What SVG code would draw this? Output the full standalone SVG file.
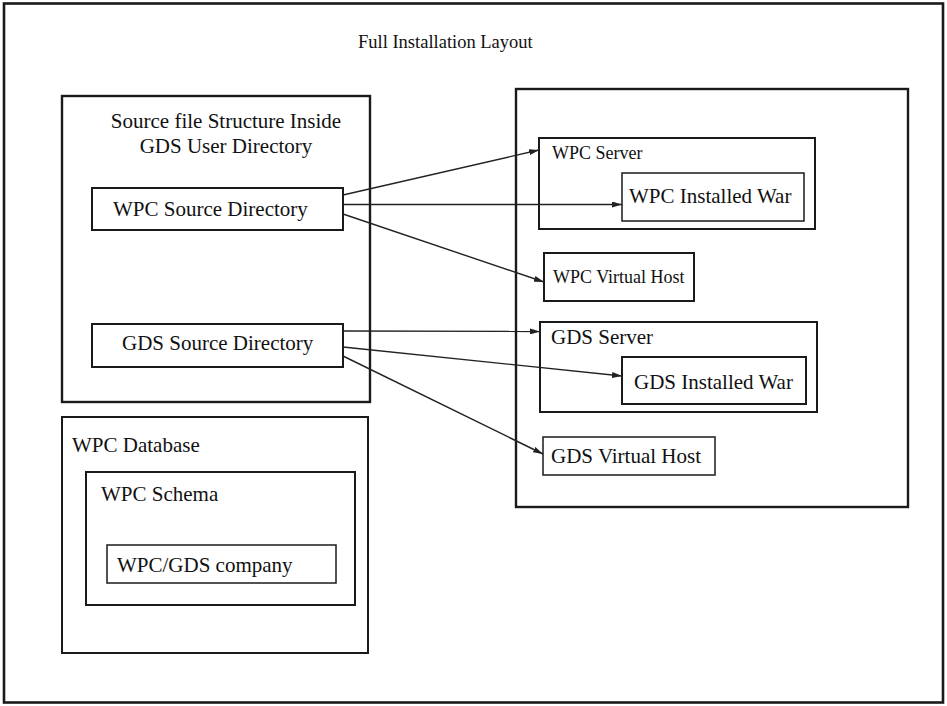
<svg xmlns="http://www.w3.org/2000/svg" width="947" height="706" viewBox="0 0 947 706">
<style>
text{font-family:"Liberation Serif","Times New Roman",serif;font-size:21px;fill:#111}
.s{font-size:18px}
.b{fill:#fff;stroke:#1a1a1a;stroke-width:2}
.t{fill:#fff;stroke:#1a1a1a;stroke-width:1.5}
.c{stroke:#222;stroke-width:1.4;fill:none;marker-end:url(#ah)}
</style>
<defs>
<marker id="ah" viewBox="0 0 10 6" refX="10" refY="3" markerWidth="10" markerHeight="6" markerUnits="userSpaceOnUse" orient="auto">
<path d="M0,0 L10,3 L0,6 Z" fill="#222"/>
</marker>
</defs>
<rect width="947" height="706" fill="#fff"/>
<g id="frame">
<rect x="4" y="3.5" width="939" height="699" fill="none" stroke="#1a1a1a" stroke-width="2.6"/>
<text x="358" y="48" style="font-size:18.5px">Full Installation Layout</text>
</g>
<g id="source-structure">
<rect class="b" x="62" y="96" width="308" height="306" style="stroke-width:2.4"/>
<text x="226" y="128" text-anchor="middle">Source file Structure Inside</text>
<text x="226" y="153" text-anchor="middle">GDS User Directory</text>
</g>
<g id="wpc-source">
<rect class="b" x="92" y="188" width="251" height="42"/>
<text x="113" y="216">WPC Source Directory</text>
</g>
<g id="gds-source">
<rect class="b" x="92" y="324" width="251" height="43"/>
<text x="122" y="350">GDS Source Directory</text>
</g>
<g id="wpc-database">
<rect class="b" x="62" y="417" width="306" height="236"/>
<text x="72" y="452">WPC Database</text>
</g>
<g id="wpc-schema">
<rect class="b" x="86" y="472" width="269" height="133"/>
<text x="101" y="501">WPC Schema</text>
</g>
<g id="wpc-gds-company">
<rect class="t" x="107" y="545" width="229" height="38"/>
<text x="117" y="572">WPC/GDS company</text>
</g>
<g id="installation">
<rect class="b" x="516" y="89" width="392" height="418" style="stroke-width:2.4"/>
</g>
<g id="wpc-server">
<rect class="b" x="539" y="138" width="276" height="91"/>
<text class="s" x="552" y="159">WPC Server</text>
</g>
<g id="wpc-installed-war">
<rect class="t" x="622" y="173" width="182" height="48"/>
<text x="629" y="203">WPC Installed War</text>
</g>
<g id="wpc-virtual-host">
<rect class="b" x="544" y="253" width="150" height="48"/>
<text class="s" x="553" y="283">WPC Virtual Host</text>
</g>
<g id="gds-server">
<rect class="b" x="540" y="322" width="277" height="90"/>
<text x="551" y="344">GDS Server</text>
</g>
<g id="gds-installed-war">
<rect class="b" x="622" y="357" width="184" height="47"/>
<text x="634" y="389">GDS Installed War</text>
</g>
<g id="gds-virtual-host">
<rect class="t" x="543" y="437" width="172" height="38"/>
<text x="551" y="463">GDS Virtual Host</text>
</g>
<g id="connectors">
<line class="c" x1="343" y1="195" x2="539" y2="150"/>
<line class="c" x1="343" y1="204.5" x2="622" y2="204.5"/>
<line class="c" x1="343" y1="214" x2="544" y2="282"/>
<line class="c" x1="343" y1="331" x2="540" y2="331.5"/>
<line class="c" x1="343" y1="347" x2="622" y2="376"/>
<line class="c" x1="343" y1="356" x2="543" y2="454"/>
</g>
</svg>
